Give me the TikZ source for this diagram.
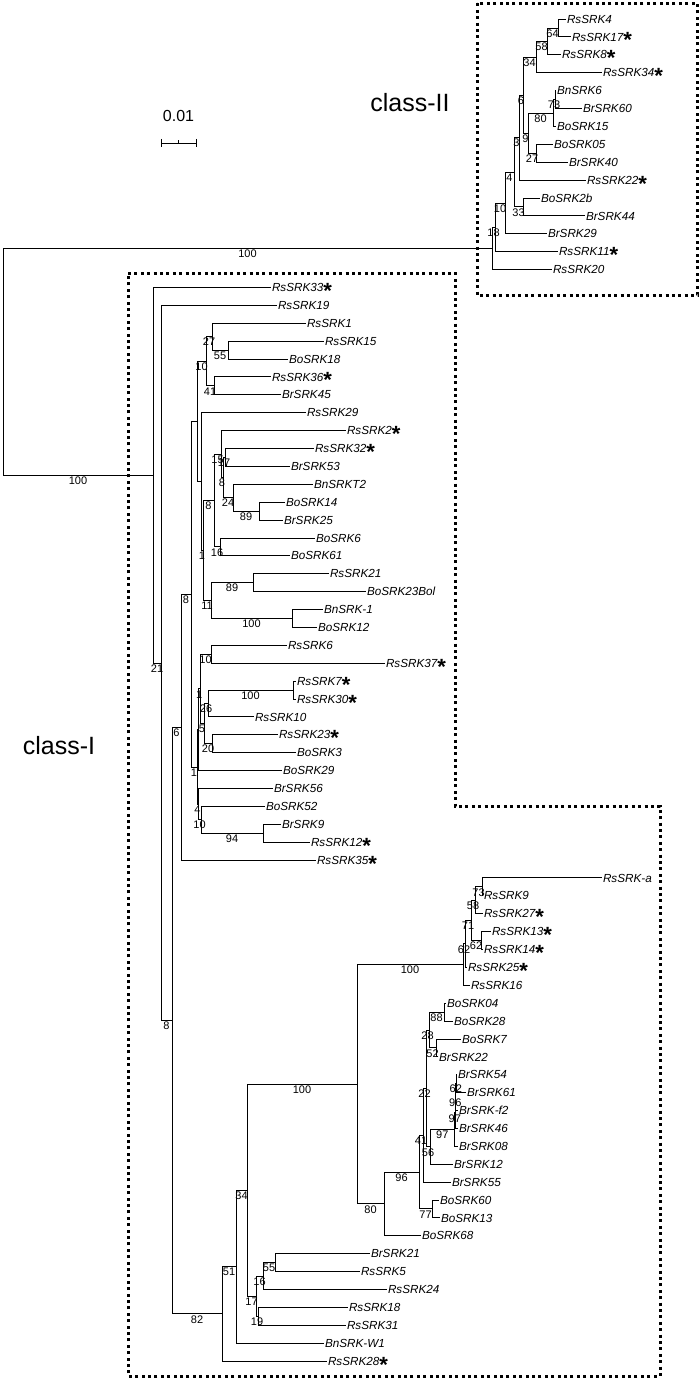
\documentclass[tikz,border=0pt]{standalone}
\usepackage{fontspec}
\setmainfont{Liberation Sans}
\newcommand{\srkstar}{\raisebox{-6.9pt}{\fontsize{22}{22}\selectfont\bfseries\upshape *}}

\begin{document}
\begin{tikzpicture}[x=1pt, y=-1pt,
    leaf/.style={anchor=west, inner xsep=1.5pt, inner ysep=0pt, outer sep=0pt, text height=8.4pt, text depth=0pt, font=\fontsize{11.7}{12}\selectfont\itshape},
    bs/.style={pos=0.75, below, inner sep=1.2pt, font=\fontsize{11}{11}\selectfont},
    br/.style={line width=0.8pt},
    dotbox/.style={line width=3pt, dash pattern=on 3pt off 3.4pt},
    ]
    \useasboundingbox (0,0) rectangle (700,1380);
    %Leaves
    \foreach \name/\tip/\txt [count=\i from 0] in {
        RsSRK4/565.5/RsSRK4, RsSRK17/570.5/RsSRK17\srkstar, RsSRK8/560.5/RsSRK8\srkstar, RsSRK34/601.5/RsSRK34\srkstar,
        BnSRK6/555.5/BnSRK6, BrSRK60/581.5/BrSRK60, BoSRK15/555.5/BoSRK15, BoSRK05/552.5/BoSRK05,
        BrSRK40/567.5/BrSRK40, RsSRK22/585.5/RsSRK22\srkstar, BoSRK2b/539.5/BoSRK2b, BrSRK44/584.5/BrSRK44,
        BrSRK29/546.5/BrSRK29, RsSRK11/557.5/RsSRK11\srkstar, RsSRK20/551.5/RsSRK20,
        RsSRK33/270.5/RsSRK33\srkstar, RsSRK19/276.5/RsSRK19, RsSRK1/305.5/RsSRK1, RsSRK15/323.5/RsSRK15,
        BoSRK18/287.5/BoSRK18, RsSRK36/270.5/RsSRK36\srkstar, BrSRK45/280.5/BrSRK45, RsSRK29/305.5/RsSRK29,
        RsSRK2/345.5/RsSRK2\srkstar, RsSRK32/313.5/RsSRK32\srkstar, BrSRK53/289.5/BrSRK53, BnSRKT2/312.5/BnSRKT2,
        BoSRK14/284.5/BoSRK14, BrSRK25/282.5/BrSRK25, BoSRK6/314.5/BoSRK6, BoSRK61/289.5/BoSRK61,
        RsSRK21/328.5/RsSRK21, BoSRK23Bol/365.5/BoSRK23Bol, BnSRK1/322.5/BnSRK-1, BoSRK12/316.5/BoSRK12,
        RsSRK6/286.5/RsSRK6, RsSRK37/384.5/RsSRK37\srkstar, RsSRK7/295.5/RsSRK7\srkstar, RsSRK30/295.5/RsSRK30\srkstar,
        RsSRK10/253.5/RsSRK10, RsSRK23/277.5/RsSRK23\srkstar, BoSRK3/295.5/BoSRK3, BoSRK29/281.5/BoSRK29,
        BrSRK56/272.5/BrSRK56, BoSRK52/264.5/BoSRK52, BrSRK9/280.5/BrSRK9, RsSRK12/309.5/RsSRK12\srkstar,
        RsSRK35/315.5/RsSRK35\srkstar,
        RsSRKa/601.5/RsSRK-a, RsSRK9/482.5/RsSRK9, RsSRK27/482.5/RsSRK27\srkstar, RsSRK13/490.5/RsSRK13\srkstar,
        RsSRK14/482.5/RsSRK14\srkstar, RsSRK25/466.5/RsSRK25\srkstar, RsSRK16/469.5/RsSRK16,
        BoSRK04/445.5/BoSRK04, BoSRK28/452.5/BoSRK28, BoSRK7/460.5/BoSRK7, BrSRK22/437.5/BrSRK22,
        BrSRK54/456.5/BrSRK54, BrSRK61/465.5/BrSRK61, BrSRKf2/457.5/BrSRK-f2, BrSRK46/457.5/BrSRK46,
        BrSRK08/457.5/BrSRK08, BrSRK12/452.5/BrSRK12, BrSRK55/450.5/BrSRK55, BoSRK60/438.5/BoSRK60,
        BoSRK13/439.5/BoSRK13, BoSRK68/420.5/BoSRK68, BrSRK21/369.5/BrSRK21, RsSRK5/359.5/RsSRK5,
        RsSRK24/386.5/RsSRK24, RsSRK18/347.5/RsSRK18, RsSRK31/345.5/RsSRK31, BnSRKW1/323.5/BnSRK-W1,
        RsSRK28/326.5/RsSRK28\srkstar}
        \node[leaf] (\name) at (\tip,{19+17.893*\i}) {\txt};

    %Inner nodes, class-II
    \coordinate (root) at (3,361.8);
    \coordinate (c2) at (492,248.4);
    \coordinate (n18) at (495,227.3);
    \coordinate (n10) at (505,202.95);
    \coordinate (n4) at (514,172.2);
    \coordinate (n33) at (523,206.85);
    \coordinate (n3) at (519,137.55);
    \coordinate (n6) at (523,95.1);
    \coordinate (n34) at (536,57.05);
    \coordinate (n58) at (547,41.4);
    \coordinate (n64) at (558,27.95);
    \coordinate (n9) at (528,133.1);
    \coordinate (n80) at (553,113.0);
    \coordinate (n73) at (555,99.55);
    \coordinate (n27) at (536,153.2);
    %Inner nodes, class-I
    \coordinate (c1) at (153,475.15);
    \coordinate (n21) at (161,662.9);
    \coordinate (n8c) at (172,1020.45);
    \coordinate (n6b) at (181,727.1);
    \coordinate (n8d) at (191,594.15);
    \coordinate (nU1) at (197,421.4);
    \coordinate (n10b) at (206,361.2);
    \coordinate (n27b) at (212,336.6);
    \coordinate (n55b) at (228,350.05);
    \coordinate (n41) at (214,385.85);
    \coordinate (nU2) at (201,481.55);
    \coordinate (n1a) at (203,550.5);
    \coordinate (n8b) at (214,500.4);
    \coordinate (n15) at (221,454.0);
    \coordinate (n8a) at (223,477.5);
    \coordinate (n17) at (225,457.35);
    \coordinate (n24) at (233,497.6);
    \coordinate (n89) at (259,511.05);
    \coordinate (n16) at (220,546.85);
    \coordinate (n11) at (211,600.55);
    \coordinate (n89b) at (253,582.65);
    \coordinate (n100b) at (292,618.45);
    \coordinate (n1c) at (197,766.9);
    \coordinate (na) at (198.5,729.7);
    \coordinate (n1b) at (200,688.85);
    \coordinate (n10c) at (211,654.2);
    \coordinate (n5) at (204,723.5);
    \coordinate (n26) at (208,703.4);
    \coordinate (n100c) at (293,689.95);
    \coordinate (n20) at (212,743.65);
    \coordinate (n4b) at (198,804.05);
    \coordinate (n10d) at (201,819.7);
    \coordinate (n94) at (263,833.15);
    \coordinate (n82) at (222,1313.8);
    \coordinate (n51) at (236,1266.6);
    \coordinate (n34b) at (247,1190.15);
    \coordinate (n100d) at (357,1084.2);
    \coordinate (n100e) at (463,964.5);
    \coordinate (n62c) at (465,943.85);
    \coordinate (n71) at (471,920.4);
    \coordinate (n58b) at (475,900.3);
    \coordinate (n73b) at (482,886.85);
    \coordinate (n62b) at (481,940.45);
    \coordinate (n80b) at (384,1203.85);
    \coordinate (n96) at (419,1172.0);
    \coordinate (n41b) at (423,1135.2);
    \coordinate (n22) at (426,1088.4);
    \coordinate (n28) at (429,1029.95);
    \coordinate (n88) at (444,1012.05);
    \coordinate (n52) at (436,1047.85);
    \coordinate (n56) at (430,1146.8);
    \coordinate (n97b) at (454.5,1129.5);
    \coordinate (n97a) at (455,1112.75);
    \coordinate (n96b) at (455.5,1097.1);
    \coordinate (n62d) at (456,1083.65);
    \coordinate (n77) at (432,1208.85);
    \coordinate (n17b) at (256,1296.1);
    \coordinate (n16b) at (263,1276.0);
    \coordinate (n55c) at (275,1262.55);
    \coordinate (n19) at (258,1316.25);

    %Lines
    \foreach \p/\c/\b in {root/c2/100, root/c1/100,
        c2/n18/18, c2/RsSRK20/, n18/n10/10, n18/RsSRK11/, n10/n4/4, n10/BrSRK29/,
        n4/n3/3, n4/n33/33, n33/BoSRK2b/, n33/BrSRK44/, n3/n6/6, n3/RsSRK22/,
        n6/n34/34, n6/n9/9, n34/n58/58, n34/RsSRK34/, n58/n64/64, n58/RsSRK8/,
        n64/RsSRK4/, n64/RsSRK17/, n9/n80/80, n9/n27/27, n80/n73/73, n80/BoSRK15/,
        n73/BnSRK6/, n73/BrSRK60/, n27/BoSRK05/, n27/BrSRK40/}
        \draw[br] (\p) |- (\c) node[bs] {\b};
    \foreach \p/\c/\b in {c1/RsSRK33/, c1/n21/21, n21/RsSRK19/, n21/n8c/8,
        n8c/n6b/6, n8c/n82/82, n6b/n8d/8, n6b/RsSRK35/, n8d/nU1/, n8d/n1c/1,
        nU1/n10b/10, nU1/nU2/, n10b/n27b/27, n10b/n41/41, n27b/RsSRK1/, n27b/n55b/55,
        n55b/RsSRK15/, n55b/BoSRK18/, n41/RsSRK36/, n41/BrSRK45/, nU2/RsSRK29/, nU2/n1a/1,
        n1a/n8b/8, n1a/n11/11, n8b/n15/15, n8b/n16/16, n15/RsSRK2/, n15/n8a/8,
        n8a/n17/17, n8a/n24/24, n17/RsSRK32/, n17/BrSRK53/, n24/BnSRKT2/, n24/n89/89,
        n89/BoSRK14/, n89/BrSRK25/, n16/BoSRK6/, n16/BoSRK61/, n11/n89b/89, n11/n100b/100,
        n89b/RsSRK21/, n89b/BoSRK23Bol/, n100b/BnSRK1/, n100b/BoSRK12/,
        n1c/na/, n1c/n4b/4, na/n1b/1, na/BoSRK29/, n1b/n10c/10, n1b/n5/5,
        n10c/RsSRK6/, n10c/RsSRK37/, n5/n26/26, n5/n20/20, n26/n100c/100, n26/RsSRK10/,
        n100c/RsSRK7/, n100c/RsSRK30/, n20/RsSRK23/, n20/BoSRK3/,
        n4b/BrSRK56/, n4b/n10d/10, n10d/BoSRK52/, n10d/n94/94, n94/BrSRK9/, n94/RsSRK12/}
        \draw[br] (\p) |- (\c) node[bs] {\b};
    \foreach \p/\c/\b in {n82/n51/51, n82/RsSRK28/, n51/n34b/34, n51/BnSRKW1/,
        n34b/n100d/100, n34b/n17b/17, n100d/n100e/100, n100d/n80b/80,
        n100e/n62c/62, n100e/RsSRK16/, n62c/n71/71, n62c/RsSRK25/, n71/n58b/58, n71/n62b/62,
        n58b/n73b/73, n58b/RsSRK27/, n73b/RsSRKa/, n73b/RsSRK9/, n62b/RsSRK13/, n62b/RsSRK14/,
        n80b/n96/96, n80b/BoSRK68/, n96/n41b/41, n96/n77/77, n41b/n22/22, n41b/BrSRK55/,
        n22/n28/28, n22/n56/56, n28/n88/88, n28/n52/52, n88/BoSRK04/, n88/BoSRK28/,
        n52/BoSRK7/, n52/BrSRK22/, n56/n97b/97, n56/BrSRK12/, n97b/n97a/97, n97b/BrSRK08/,
        n97a/n96b/96, n97a/BrSRK46/, n96b/n62d/62, n96b/BrSRKf2/, n62d/BrSRK54/, n62d/BrSRK61/,
        n77/BoSRK60/, n77/BoSRK13/, n17b/n16b/16, n17b/n19/19, n16b/n55c/55, n16b/RsSRK24/,
        n55c/BrSRK21/, n55c/RsSRK5/, n19/RsSRK18/, n19/RsSRK31/}
        \draw[br] (\p) |- (\c) node[bs] {\b};

    %Boxes and labels
    \draw[dotbox] (477,3.5) rectangle (697.5,295);
    \draw[dotbox] (128,273) -- (455,273) -- (455,806) -- (660,806) -- (660,1376) -- (128,1376) -- cycle;
    \node[font=\fontsize{25}{25}\selectfont] (classII) at (410,103) {class-II};
    \node[font=\fontsize{25}{25}\selectfont] (classI) at (59,746) {class-I};
    %Scale bar
    \node[font=\fontsize{16}{16}\selectfont] (scale) at (178.5,116) {0.01};
    \draw[br] (161,139) -- (161,147) (161,143) -- (196,143) (196,139) -- (196,147) (178.5,143) -- (178.5,140);
\end{tikzpicture}
\end{document}
